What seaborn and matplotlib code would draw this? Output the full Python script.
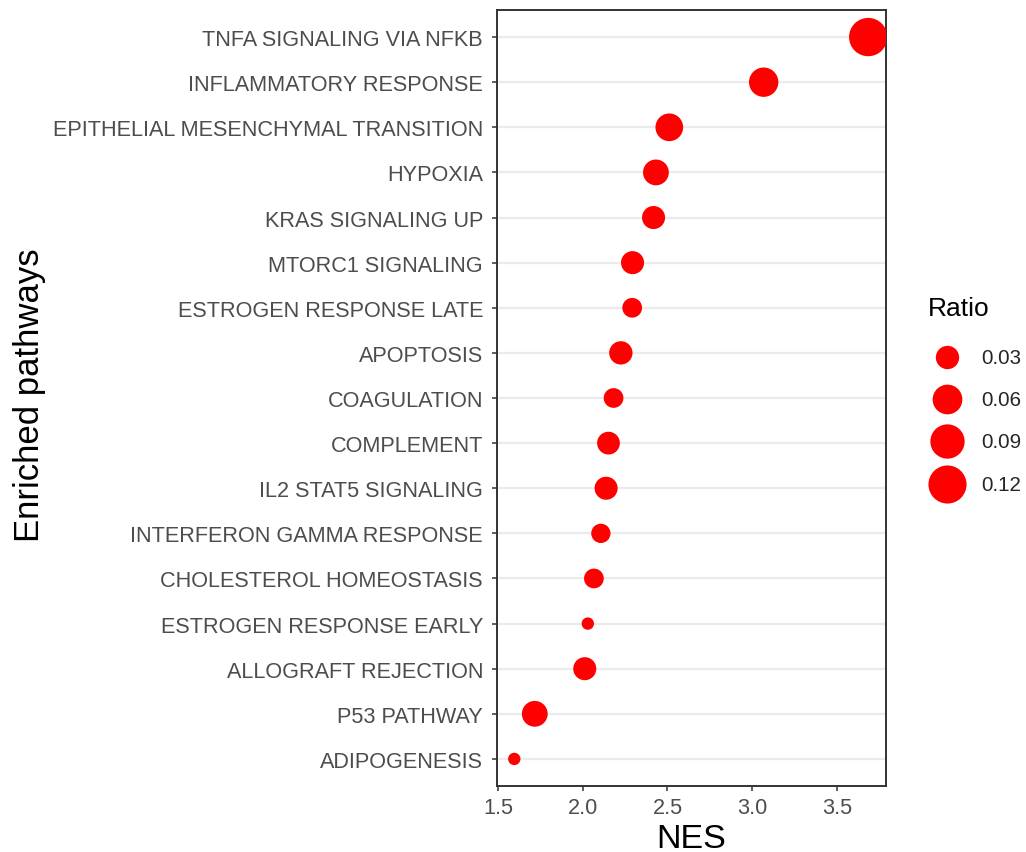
import numpy as np
import pandas as pd
import matplotlib
matplotlib.use("Agg")
import matplotlib.pyplot as plt
from matplotlib.lines import Line2D
from matplotlib.legend_handler import HandlerLine2D
import seaborn as sns

# Hallmark pathways, top to bottom
pathways = [
    "TNFA SIGNALING VIA NFKB",
    "INFLAMMATORY RESPONSE",
    "EPITHELIAL MESENCHYMAL TRANSITION",
    "HYPOXIA",
    "KRAS SIGNALING UP",
    "MTORC1 SIGNALING",
    "ESTROGEN RESPONSE LATE",
    "APOPTOSIS",
    "COAGULATION",
    "COMPLEMENT",
    "IL2 STAT5 SIGNALING",
    "INTERFERON GAMMA RESPONSE",
    "CHOLESTEROL HOMEOSTASIS",
    "ESTROGEN RESPONSE EARLY",
    "ALLOGRAFT REJECTION",
    "P53 PATHWAY",
    "ADIPOGENESIS",
]
nes = [3.685, 3.068, 2.511, 2.432, 2.418, 2.294, 2.292, 2.225, 2.182,
       2.152, 2.138, 2.107, 2.066, 2.030, 2.012, 1.717, 1.596]
ratio = [0.122, 0.058, 0.049, 0.040, 0.029, 0.029, 0.019, 0.030, 0.019,
         0.028, 0.029, 0.018, 0.019, 0.010, 0.029, 0.040, 0.010]

legend_breaks = [0.03, 0.06, 0.09, 0.12]
legend_labels = ["0.03", "0.06", "0.09", "0.12"]

df = pd.DataFrame({"pathway": pathways, "NES": nes, "Ratio": ratio})

# Area-style size scale: diameter grows with the square root of the ratio
D_MIN, D_MAX = 8.9, 27.6          # marker diameters in points
R_MIN, R_MAX = min(ratio), max(ratio)


def diameter(r):
    frac = np.clip((r - R_MIN) / (R_MAX - R_MIN), 0, 1)
    return D_MIN + (D_MAX - D_MIN) * np.sqrt(frac)


size_map = {r: diameter(r) ** 2 for r in ratio}


class CenteredKey(HandlerLine2D):
    """Legend key whose marker sits level with the middle of its label."""

    def create_artists(self, legend, orig_handle, xdescent, ydescent,
                       width, height, fontsize, trans):
        artists = super().create_artists(legend, orig_handle, xdescent, ydescent,
                                         width, height, fontsize, trans)
        for a in artists:
            a.set_ydata(np.asarray(a.get_ydata()) - 0.3 * fontsize)
        return artists


sns.set_theme(style="white")
plt.rcParams["font.family"] = ["Liberation Sans", "DejaVu Sans"]

W, H = 1026, 853
fig = plt.figure(figsize=(W / 100, H / 100), dpi=100)
ax = fig.add_axes([497 / W, 1 - 787 / H, 389 / W, (787 - 11) / H])

sns.scatterplot(data=df, x="NES", y="pathway", size="Ratio", sizes=size_map,
                color="#FF0000", linewidth=0, legend=False, ax=ax, zorder=3)

ax.set_ylim(len(pathways) - 1 + 0.6, -0.6)
ax.set_xlim(1.494, 3.79)
ax.set_xticks([1.5, 2.0, 2.5, 3.0, 3.5])
ax.set_xticklabels(["1.5", "2.0", "2.5", "3.0", "3.5"])

ax.grid(False)
for y in range(len(pathways)):
    ax.axhline(y, color="#EBEBEB", lw=1.6, zorder=1)

for sp in ax.spines.values():
    sp.set_color("#333333")
    sp.set_linewidth(1.4)

ax.tick_params(axis="both", which="major", length=3.5, width=1.1,
               color="#333333", labelcolor="#4D4D4D", labelsize=15.6,
               left=True, bottom=True)
ax.tick_params(axis="y", pad=6.5)
ax.tick_params(axis="x", pad=4.5)

ax.set_xlabel("NES", fontsize=24.5, color="black", labelpad=3.5)
ax.set_ylabel("Enriched pathways", fontsize=25, color="black")
ax.yaxis.set_label_coords((46 - 497) / 389, 0.505)

# Size legend
fig.text(928 / W, 1 - 316.5 / H, "Ratio", fontsize=19, color="black",
         ha="left", va="baseline")
handles = [Line2D([0], [0], marker="o", linestyle="none", markerfacecolor="#FF0000",
                  markeredgewidth=0, markersize=diameter(b)) for b in legend_breaks]
fig.legend(handles, legend_labels, loc="upper left",
           bbox_to_anchor=(920 / W, 1 - 331 / H), frameon=False,
           fontsize=14.8, handlelength=1.85, handleheight=2.33,
           labelspacing=0.3, handletextpad=0.74, borderaxespad=0,
           handler_map={Line2D: CenteredKey()})

fig.savefig("out.png", dpi=100, facecolor="white")
